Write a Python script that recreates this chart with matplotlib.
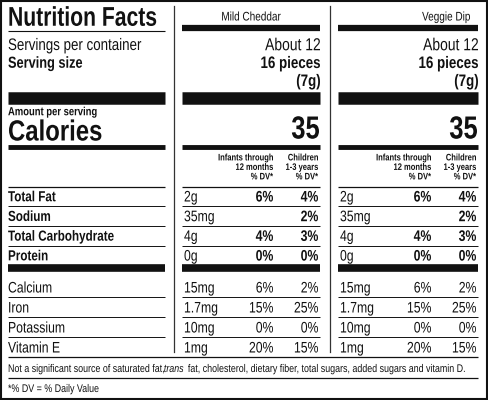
import matplotlib
matplotlib.use("Agg")
import matplotlib.pyplot as plt
from matplotlib.textpath import TextPath
from matplotlib.patches import PathPatch
from matplotlib.font_manager import FontProperties
from matplotlib.transforms import Affine2D

FONT = "Liberation Sans"

products = ["Mild Cheddar", "Veggie Dip"]
servings = ["About 12", "About 12"]
serving_size = ["16 pieces", "16 pieces"]
serving_grams = ["(7g)", "(7g)"]
calories = ["35", "35"]
main_nutrients = ["Total Fat", "Sodium", "Total Carbohydrate", "Protein"]
main_amounts = ["2g", "35mg", "4g", "0g"]
main_infant = ["6%", "", "4%", "0%"]
main_child = ["4%", "2%", "3%", "0%"]
minerals = ["Calcium", "Iron", "Potassium", "Vitamin E"]
min_amounts = ["15mg", "1.7mg", "10mg", "1mg"]
min_infant = ["6%", "15%", "0%", "20%"]
min_child = ["2%", "25%", "0%", "15%"]

fig = plt.figure(figsize=(4.88, 4.0), dpi=100)
ax = fig.add_axes([0, 0, 1, 1])
ax.set_xlim(0, 488); ax.set_ylim(400, 0); ax.axis("off")

SX = 0.8  # horizontal condensing

def T(x, y, s, size, bold=False, ha="left", style="normal", sx=SX):
    """Condensed text; size in points, y = vertical centre of cap height."""
    if not s:
        return 0
    px = size * 100 / 72
    fp = FontProperties(family=FONT, weight="bold" if bold else "normal", style=style)
    tp = TextPath((0, 0), s, size=px, prop=fp)
    w = tp.get_extents().x1 * sx
    x0 = x if ha == "left" else (x - w if ha == "right" else x - w / 2)
    tr = Affine2D().scale(sx, -1).translate(x0, y + 0.36 * px)
    ax.add_patch(PathPatch(tr.transform_path(tp), fc="#111", ec="none", lw=0))
    return w

def H(x0, x1, y, lw):
    ax.plot([x0, x1], [y, y], color="#111", lw=lw, solid_capstyle="butt")

ax.add_patch(plt.Rectangle((1, 1), 486, 398, fill=False, lw=1.5, ec="#111"))
cols = [(182, 320), (338, 478)]
L = (8, 165)
for xv in (174, 330):
    ax.plot([xv, xv], [6, 352], color="#333", lw=0.9)

T(8, 16, "Nutrition Facts", 19.5, True, sx=0.78)
H(*L, 31, 0.8)
T(8, 44, "Servings per container", 12)
T(8, 62, "Serving size", 11.5, True)
for bx in [L] + cols:
    H(bx[0], bx[1], 98, 9)
    H(bx[0], bx[1], 147, 3.5)
    H(bx[0], bx[1], 268, 5.5)
for c in cols:
    H(c[0], c[1], 28, 4.5)
T(8, 111, "Amount per serving", 8.5, True)
T(8, 130, "Calories", 21, True, sx=0.82)

header_x = [251, 470]
header_ha = ["center", "right"]
for i, (c0, c1) in enumerate(cols):
    T(header_x[i], 16, products[i], 9, ha=header_ha[i])
    T(c1, 44, servings[i], 12.5, ha="right")
    T(c1, 62, serving_size[i], 12, True, ha="right")
    T(c1, 80, serving_grams[i], 12, True, ha="right")
    T(c1 - 1, 127, calories[i], 23, True, ha="right")
    xi, xc = c1 - 47, c1 - 2
    for j, (a, b) in enumerate([("Infants through", "Children"), ("12 months", "1-3 years"), ("% DV*", "% DV*")]):
        T(xi, 157 + j * 9.5, a, 6.8, True, ha="right")
        T(xc, 157 + j * 9.5, b, 6.8, True, ha="right")
    for k in range(4):
        y = 196 + k * 19.7
        T(c0 + 2, y, main_amounts[k], 11)
        T(xi, y, main_infant[k], 11, True, ha="right")
        T(xc, y, main_child[k], 11, True, ha="right")
        y2 = 287 + k * 20
        T(c0 + 2, y2, min_amounts[k], 11)
        T(xi, y2, min_infant[k], 11, ha="right")
        T(xc, y2, min_child[k], 11, ha="right")

for bx in [L] + cols:
    H(bx[0], bx[1], 187, 0.9)
    for y in (206, 226, 246):
        H(bx[0], bx[1], y, 0.7)
    for y in (297, 317, 337):
        H(bx[0], bx[1], y, 0.7)
for k in range(4):
    T(8, 196 + k * 19.7, main_nutrients[k], 10.5, True)
    T(8, 287 + k * 20, minerals[k], 11)

H(8, 478, 357, 0.9)
parts = [("Not a significant source of saturated fat, ", "normal"), ("trans", "italic"),
         (" fat, cholesterol, dietary fiber, total sugars, added sugars and vitamin D.", "normal")]
x = 8
for s, st in parts:
    x += T(x, 368, s, 8, style=st, sx=0.8) + (2 if st == "italic" else 0)
H(8, 478, 378, 0.9)
T(8, 388, "*% DV = % Daily Value", 8)

fig.savefig("out.png", dpi=100)
